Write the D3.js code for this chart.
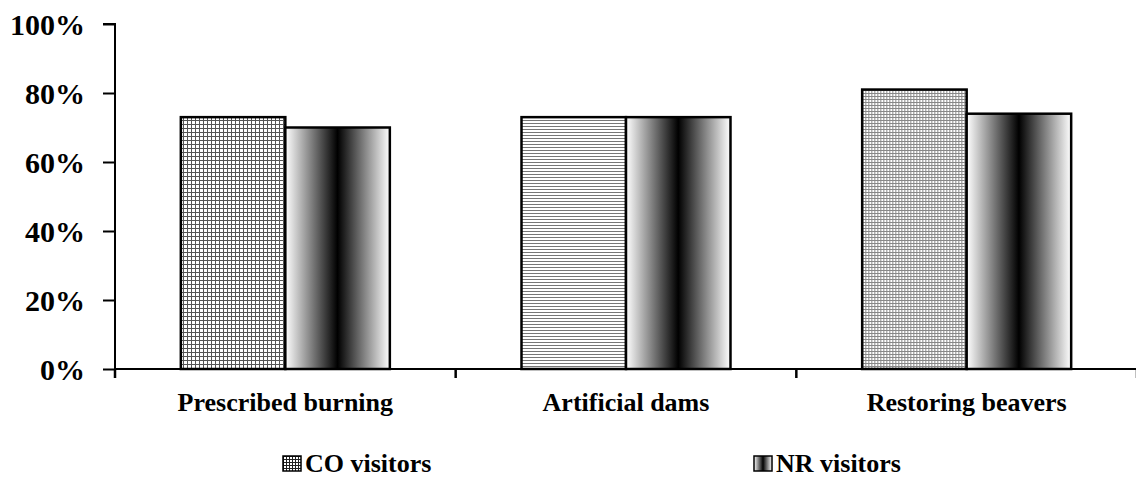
<!DOCTYPE html>
<html>
<head>
<meta charset="utf-8">
<script src="https://cdn.jsdelivr.net/npm/d3@7"></script>
<style>
  html, body { margin: 0; padding: 0; background: #fff; }
  svg { display: block; }
  text { font-family: "Liberation Serif", "Times New Roman", "DejaVu Serif", serif; font-weight: bold; fill: #000; }
</style>
</head>
<body>
<svg id="chart" width="1136" height="477"></svg>
<script>
// chart values
const categories = ["Prescribed burning", "Artificial dams", "Restoring beavers"];
const seriesNames = ["CO visitors", "NR visitors"];
const coValues = [73, 73, 81];
const nrValues = [70, 73, 74];
const yTicks = [0, 20, 40, 60, 80, 100];

const plot = { left: 115, right: 1137, top: 24, bottom: 369 };
const serif = '"Liberation Serif", "Times New Roman", serif';

const svg = d3.select("#chart");
const defs = svg.append("defs");

// hatch patterns for the CO bars (each bar has its own, as in the original)
function gridPattern(id, step, color, horizOnly) {
    const p = defs.append("pattern")
        .attr("id", id)
        .attr("patternUnits", "userSpaceOnUse")
        .attr("width", step).attr("height", step);
    p.append("rect").attr("width", step).attr("height", step).attr("fill", "#fff");
    p.append("rect").attr("width", step).attr("height", 1).attr("fill", color);
    if (!horizOnly)
        p.append("rect").attr("width", 1).attr("height", step).attr("fill", color);
}
gridPattern("pat0", 4, "#555", false);
gridPattern("pat1", 3, "#777", true);
gridPattern("pat2", 3, "#888", false);
gridPattern("patLegend", 3, "#222", false);

// gradient for the NR bars
const grad = defs.append("linearGradient")
    .attr("id", "nrGrad")
    .attr("x1", "0%").attr("x2", "100%").attr("y1", "0%").attr("y2", "0%");
grad.append("stop").attr("offset", "0%").attr("stop-color", "#fff");
grad.append("stop").attr("offset", "50%").attr("stop-color", "#000");
grad.append("stop").attr("offset", "100%").attr("stop-color", "#fff");

/*----------------- scales -----------------*/
const x0 = d3.scaleBand()
    .domain(categories)
    .range([plot.left, plot.right])
    .paddingInner(0).paddingOuter(0);

const x1 = d3.scaleBand()
    .domain(seriesNames)
    .range([0, x0.bandwidth()])
    .paddingInner(0)
    .paddingOuter(0.63);

const y = d3.scaleLinear()
    .domain([0, 100])
    .range([plot.bottom, plot.top]);

/*----------------- bars -----------------*/
const rows = categories.map((c, i) => ({ cat: c, i: i, vals: [coValues[i], nrValues[i]] }));

const groups = svg.append("g").selectAll("g")
    .data(rows)
    .enter().append("g")
    .attr("transform", d => `translate(${x0(d.cat)},0)`);

groups.selectAll("rect")
    .data(d => d.vals.map((v, k) => ({ v: v, k: k, i: d.i })))
    .enter().append("rect")
    .attr("x", d => x1(seriesNames[d.k]))
    .attr("y", d => y(d.v))
    .attr("width", x1.bandwidth())
    .attr("height", d => y(0) - y(d.v))
    .attr("fill", d => d.k === 0 ? `url(#pat${d.i})` : "url(#nrGrad)")
    .attr("stroke", "#000")
    .attr("stroke-width", 2.5);

/*----------------- axes -----------------*/
const yAxis = svg.append("g")
    .attr("transform", `translate(${plot.left},0)`)
    .call(d3.axisLeft(y).tickValues(yTicks).tickFormat(d => d + "%").tickSize(12).tickPadding(18));
yAxis.select(".domain").attr("stroke-width", 2).attr("d", `M-12,${plot.top}H0V${plot.bottom}`);
yAxis.selectAll(".tick line").attr("stroke-width", 2);
yAxis.selectAll(".tick text")
    .style("font-family", serif)
    .style("font-weight", "bold")
    .style("font-size", "30px")
    .attr("dy", "0.34em");

const xAxis = svg.append("g")
    .attr("transform", `translate(0,${plot.bottom})`);
xAxis.append("line")
    .attr("x1", plot.left).attr("x2", plot.right)
    .attr("stroke", "#000").attr("stroke-width", 2);
const bounds = categories.map(c => x0(c)).concat([x0(categories[categories.length - 1]) + x0.bandwidth()]);
xAxis.selectAll("line.tk")
    .data(bounds)
    .enter().append("line")
    .attr("class", "tk")
    .attr("x1", d => d).attr("x2", d => d)
    .attr("y1", 0).attr("y2", 9)
    .attr("stroke", "#000").attr("stroke-width", 2.5);
xAxis.selectAll("text")
    .data(categories)
    .enter().append("text")
    .attr("x", d => x0(d) + x0.bandwidth() / 2)
    .attr("y", 42)
    .attr("text-anchor", "middle")
    .style("font-family", serif)
    .style("font-size", "26px")
    .text(d => d);

/*----------------- legend -----------------*/
const legendX = [283, 754];
const legend = svg.append("g").selectAll("g")
    .data(seriesNames)
    .enter().append("g")
    .attr("transform", (d, i) => `translate(${legendX[i]},456)`);
legend.append("rect")
    .attr("width", 18).attr("height", 15)
    .attr("fill", (d, i) => i === 0 ? "url(#patLegend)" : "url(#nrGrad)")
    .attr("stroke", "#000").attr("stroke-width", 1.5);
legend.append("text")
    .attr("x", 22).attr("y", 16)
    .style("font-family", serif)
    .style("font-size", "26px")
    .text(d => d);
</script>
</body>
</html>
